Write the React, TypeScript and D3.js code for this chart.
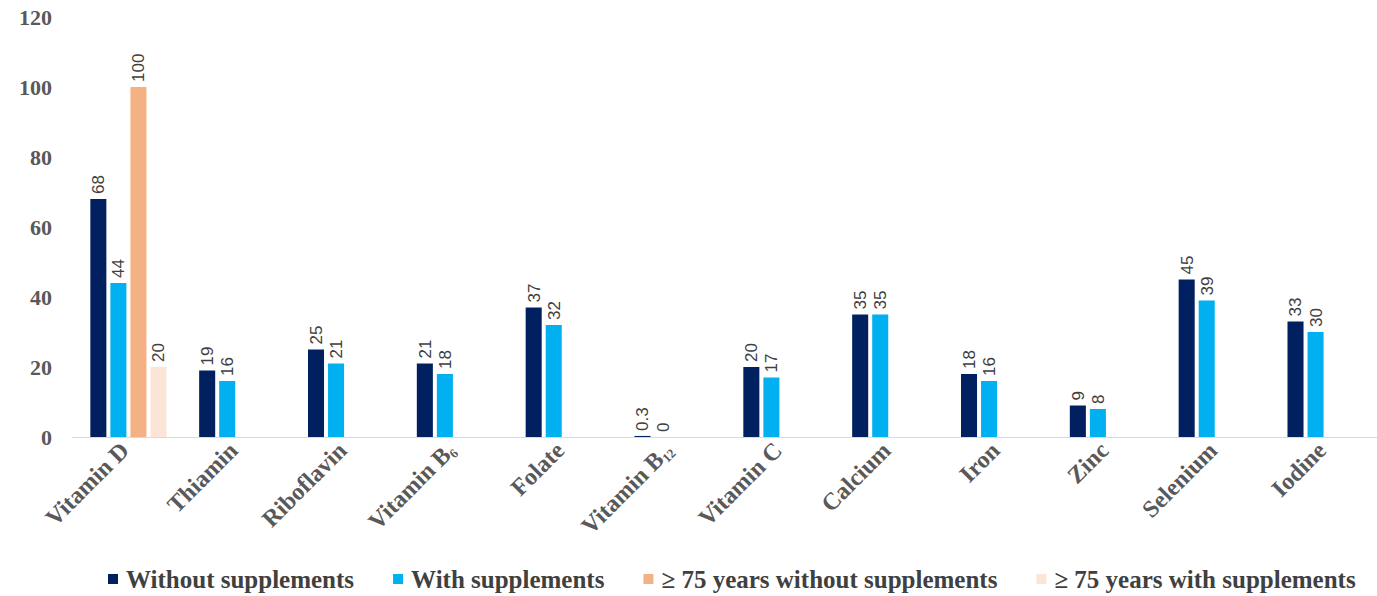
import React, { useEffect, useRef } from 'react';
import * as d3 from 'd3';

const nutrients = ['Vitamin D', 'Thiamin', 'Riboflavin', 'Vitamin B6', 'Folate', 'Vitamin B12', 'Vitamin C', 'Calcium', 'Iron', 'Zinc', 'Selenium', 'Iodine'];
const seriesNames = ['Without supplements', 'With supplements', '≥ 75 years without supplements', '≥ 75 years with supplements'];
const seriesColors = ['#002060', '#00B0F0', '#F4B183', '#FBE5D6'];
const withoutSupp = [68, 19, 25, 21, 37, 0.3, 20, 35, 18, 9, 45, 33];
const withSupp = [44, 16, 21, 18, 32, 0, 17, 35, 16, 8, 39, 30];
const old75Without = [100, null, null, null, null, null, null, null, null, null, null, null];
const old75With = [20, null, null, null, null, null, null, null, null, null, null, null];
const yTicks = [0, 20, 40, 60, 80, 100, 120];

const seriesValues = [withoutSupp, withSupp, old75Without, old75With];

const App: React.FC = () => {
  const svgRef = useRef<SVGSVGElement>(null);

  useEffect(() => {
    document.body.style.margin = '0';
    const totalWidth = 1377;
    const totalHeight = 596;

    const svg = d3.select(svgRef.current)
      .attr('width', totalWidth)
      .attr('height', totalHeight);
    svg.selectAll('*').remove();

    const x = d3.scaleBand<string>()
      .domain(nutrients)
      .range([74, 1380])
      .paddingInner(0.3)
      .paddingOuter(0.15);

    const xInner = d3.scaleBand<string>()
      .domain(seriesNames)
      .range([0, x.bandwidth()])
      .paddingInner(0.2);

    const y = d3.scaleLinear().domain([0, 120]).range([437, 17]);

    // y tick labels (no axis line)
    svg.append('g')
      .selectAll('text')
      .data(yTicks)
      .enter().append('text')
      .attr('x', 52)
      .attr('y', d => y(d))
      .attr('dy', '0.35em')
      .attr('text-anchor', 'end')
      .style('font-family', '"Liberation Serif", "Times New Roman", serif')
      .style('font-weight', 'bold')
      .style('font-size', '22px')
      .attr('fill', '#595959')
      .text(d => d);

    // baseline
    svg.append('line')
      .attr('x1', 72)
      .attr('x2', 1377)
      .attr('y1', y(0) + 0.5)
      .attr('y2', y(0) + 0.5)
      .attr('stroke', '#D9D9D9')
      .attr('stroke-width', 1);

    const bars = nutrients.flatMap((n, i) =>
      seriesNames.map((s, j) => ({ n, s, j, v: seriesValues[j][i] }))
    ).filter(d => d.v !== null) as { n: string; s: string; j: number; v: number }[];

    svg.append('g')
      .selectAll('rect')
      .data(bars)
      .enter().append('rect')
      .attr('x', d => (x(d.n) as number) + (xInner(d.s) as number))
      .attr('y', d => y(d.v))
      .attr('width', xInner.bandwidth())
      .attr('height', d => y(0) - y(d.v))
      .attr('fill', d => seriesColors[d.j]);

    svg.append('g')
      .selectAll('text')
      .data(bars)
      .enter().append('text')
      .attr('transform', d => {
        const cx = (x(d.n) as number) + (xInner(d.s) as number) + xInner.bandwidth() / 2;
        return `translate(${cx}, ${y(d.v) - 5}) rotate(-90)`;
      })
      .attr('dy', '0.35em')
      .attr('text-anchor', 'start')
      .style('font-family', '"Liberation Sans", Arial, sans-serif')
      .style('font-size', '17px')
      .attr('fill', '#404040')
      .text(d => d.v);

    // x category labels
    const xl = svg.append('g')
      .selectAll('text')
      .data(nutrients)
      .enter().append('text')
      .attr('transform', d => `translate(${(x(d) as number) + x.bandwidth() / 2 + 2}, ${452}) rotate(-45)`)
      .attr('text-anchor', 'end')
      .style('font-family', '"Liberation Serif", "Times New Roman", serif')
      .style('font-weight', 'bold')
      .style('font-size', '24px')
      .attr('fill', '#595959');

    xl.each(function (d) {
      const t = d3.select(this);
      const m = d.match(/^(Vitamin B)(\d+)$/);
      if (m) {
        t.append('tspan').text(m[1]);
        t.append('tspan').text(m[2]).style('font-size', '13px').attr('dy', '3');
      } else {
        t.text(d);
      }
    });

    // legend
    const legend = svg.append('g').attr('transform', 'translate(108, 579)');
    let offset = 0;
    seriesNames.forEach((s, i) => {
      const g = legend.append('g').attr('transform', `translate(${offset}, 0)`);
      g.append('rect')
        .attr('x', 0)
        .attr('y', -5)
        .attr('width', 10)
        .attr('height', 10)
        .attr('fill', seriesColors[i]);
      const t = g.append('text')
        .attr('x', 18)
        .attr('y', 0)
        .attr('dy', '0.35em')
        .style('font-family', '"Liberation Serif", "Times New Roman", serif')
        .style('font-weight', 'bold')
        .style('font-size', '25px')
        .attr('fill', '#404040')
        .text(s);
      const w = (t.node() as SVGTextElement).getComputedTextLength();
      offset += 18 + w + 39;
    });
  }, []);

  return <svg ref={svgRef}></svg>;
};

export default App;
